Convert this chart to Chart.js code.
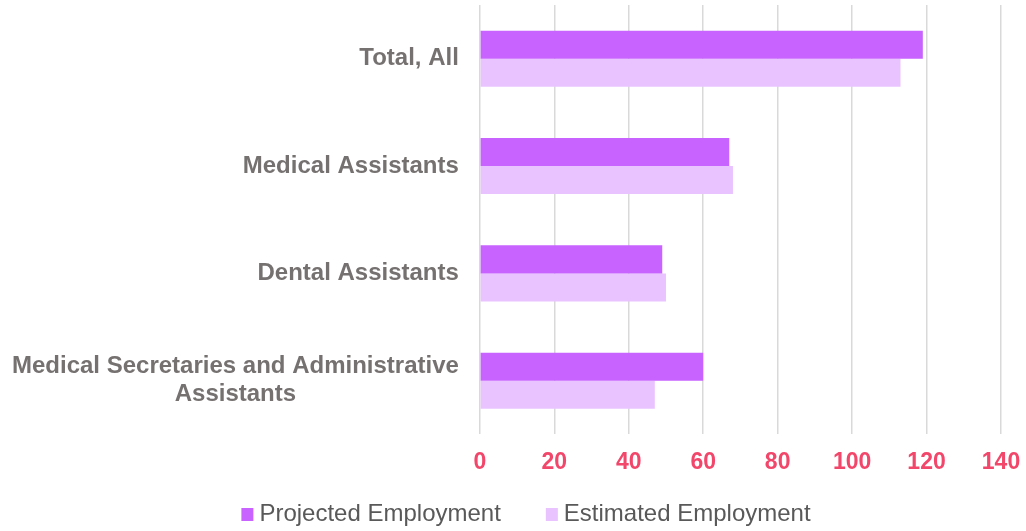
<!DOCTYPE html>
<html>
<head>
<meta charset="utf-8">
<script src="https://cdn.jsdelivr.net/npm/chart.js@4.4.1/dist/chart.umd.min.js"></script>
<style>
  html, body { margin: 0; padding: 0; background: #fff; }
  #wrap { width: 1026px; height: 531px; position: relative; }
</style>
</head>
<body>
<div id="wrap"><canvas id="employmentChart"></canvas></div>
<script>
const categories = [
    'Total, All',
    'Medical Assistants',
    'Dental Assistants',
    ['Medical Secretaries and Administrative', 'Assistants']
];
const projected = [119, 67, 49, 60];
const estimated = [113, 68, 50, 47];
const xTicks = [0, 20, 40, 60, 80, 100, 120, 140];

const fontFamily = 'Arial, "Liberation Sans", sans-serif';
const labelFont = 'bold 24px ' + fontFamily;
const labelPad = 21;
const lineGap = 28;

const splitLines = (raw) => Array.isArray(raw) ? raw : [raw];

// category labels: right-aligned block, lines centred inside the block
const categoryLabels = {
    id: 'categoryLabels',
    afterDraw(chart) {
        const scale = chart.scales.y;
        const c = chart.ctx;
        c.save();
        c.font = labelFont;
        c.fillStyle = '#767171';
        c.textAlign = 'center';
        c.textBaseline = 'middle';
        chart.data.labels.forEach((raw, i) => {
            const lines = splitLines(raw);
            const w = Math.max(...lines.map(l => c.measureText(l).width));
            const cx = scale.right - labelPad - w / 2;
            const cy = scale.getPixelForTick(i);
            lines.forEach((l, j) => {
                c.fillText(l, cx, cy + (j - (lines.length - 1) / 2) * lineGap);
            });
        });
        c.restore();
    }
};

// legend row under the axis
const legendRow = {
    id: 'legendRow',
    afterDraw(chart) {
        const c = chart.ctx;
        const box = 12, gap = 6, spacing = 45;
        c.save();
        c.font = '24px ' + fontFamily;
        c.textBaseline = 'middle';
        c.textAlign = 'left';
        const items = chart.data.datasets.map(ds => ({
            text: ds.label,
            color: ds.backgroundColor,
            w: box + gap + c.measureText(ds.label).width
        }));
        const total = items.reduce((s, it) => s + it.w, 0) + spacing * (items.length - 1);
        let x = chart.width / 2 + 13 - total / 2;
        const y = 514;
        items.forEach(it => {
            c.fillStyle = it.color;
            c.fillRect(x, y - 6, box, 13);
            c.fillStyle = '#595959';
            c.fillText(it.text, x + box + gap, y);
            x += it.w + spacing;
        });
        c.restore();
    }
};

const ctx = document.getElementById('employmentChart').getContext('2d');
const chart = new Chart(ctx, {
    type: 'bar',
    data: {
        labels: categories,
        datasets: [{
            label: 'Projected Employment',
            data: projected,
            backgroundColor: '#C863FF',
            borderWidth: 0,
        }, {
            label: 'Estimated Employment',
            data: estimated,
            backgroundColor: '#E9C3FF',
            borderWidth: 0,
        }],
    },
    options: {
        indexAxis: 'y',
        responsive: true,
        maintainAspectRatio: false,
        animation: false,
        layout: {
            padding: { left: 12, right: 25, top: 5, bottom: 41 }
        },
        datasets: {
            bar: {
                categoryPercentage: 0.522,
                barPercentage: 1,
            }
        },
        scales: {
            x: {
                min: 0,
                max: 140,
                afterBuildTicks: (axis) => {
                    axis.ticks = xTicks.map(v => ({ value: v }));
                },
                afterFit: (scale) => {
                    // end labels may hang past the plot edges
                    scale.paddingLeft = 0;
                    scale.paddingRight = 0;
                },
                grid: {
                    color: '#D9D9D9',
                    lineWidth: 1.5,
                    drawTicks: false,
                },
                border: { display: false },
                ticks: {
                    color: '#F2476B',
                    padding: 14,
                    font: { family: fontFamily, size: 23, weight: 'bold' }
                }
            },
            y: {
                grid: { display: false, drawTicks: false },
                border: { display: false },
                ticks: { display: false },
                afterFit: (scale) => {
                    const c = scale.ctx;
                    c.save();
                    c.font = labelFont;
                    const widths = categories.flatMap(splitLines).map(l => c.measureText(l).width);
                    c.restore();
                    scale.width = Math.max(...widths) + labelPad;
                }
            }
        },
        plugins: {
            legend: { display: false },
            tooltip: { enabled: false }
        }
    },
    plugins: [categoryLabels, legendRow]
});
</script>
</body>
</html>
